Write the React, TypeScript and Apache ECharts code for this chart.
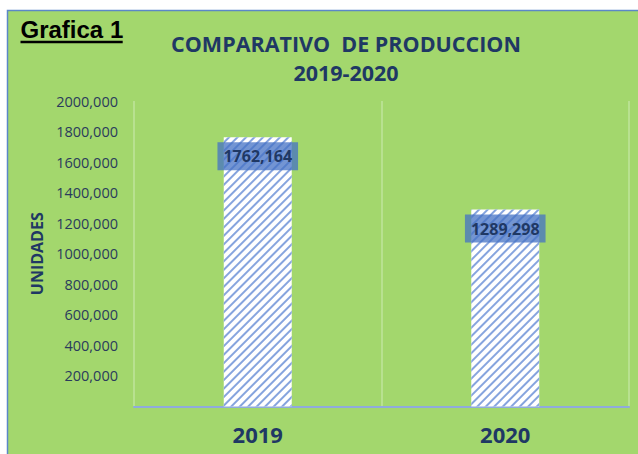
import React, { useEffect, useRef } from "react";
import * as echarts from "echarts";

const categories = ["2019", "2020"];
const production = [1762164, 1289298];
const yMin = 0;
const yMax = 2000000;
const yInterval = 200000;
const chartTitle = "COMPARATIVO  DE PRODUCCION\n2019-2020";
const chartTag = "Grafica 1";
const yName = "UNIDADES";

const fmt = (v: number) =>
  v >= 1000 ? Math.floor(v / 1000) + "," + String(v % 1000).padStart(3, "0") : String(v);

export default function App() {
  const ref = useRef<HTMLDivElement>(null);
  useEffect(() => {
    if (!ref.current) return;
    const chart = echarts.init(ref.current, null, { renderer: "svg" });
    const navy = "#1f3864";
    chart.setOption({
      animation: false,
      backgroundColor: "#ffffff",
      graphic: [
        {
          type: "rect",
          z: -10,
          shape: { x: 7.5, y: 10.5, width: 700, height: 500 },
          style: { fill: "#a3d76d", stroke: "#5b87c8", lineWidth: 1.5 },
        },
        {
          type: "text",
          z: 10,
          style: {
            text: chartTag,
            x: 20.5,
            y: 29.7,
            textVerticalAlign: "middle",
            fill: "#000000",
            font: 'bold 24px "Liberation Sans", Arial, sans-serif',
          },
        },
        {
          type: "line",
          z: 10,
          shape: { x1: 20.5, y1: 42, x2: 122.7, y2: 42 },
          style: { stroke: "#000000", lineWidth: 2.5 },
        },
      ],
      title: {
        text: chartTitle,
        left: 346,
        top: 28.5,
        padding: 0,
        textAlign: "center",
        textStyle: {
          color: navy,
          fontFamily: "Open Sans",
          fontWeight: "bold",
          fontSize: 21.5,
          lineHeight: 29,
        },
      },
      grid: { left: 134, right: 9, top: 101, bottom: 47.5, containLabel: false },
      xAxis: {
        type: "category",
        data: categories,
        axisLine: { show: true, lineStyle: { color: "#8faadc", width: 2 } },
        axisTick: { show: false },
        splitLine: { show: true, lineStyle: { color: "#bfe49c", width: 1.5 } },
        axisLabel: {
          color: navy,
          fontFamily: "Open Sans",
          fontWeight: "bold",
          fontSize: 22,
          margin: 16,
        },
      },
      yAxis: {
        type: "value",
        min: yMin,
        max: yMax,
        interval: yInterval,
        name: yName,
        nameLocation: "middle",
        nameRotate: 90,
        nameGap: 85,
        nameTextStyle: {
          color: navy,
          fontFamily: "Open Sans",
          fontWeight: "bold",
          fontSize: 16,
        },
        axisLine: { show: false },
        axisTick: { show: false },
        splitLine: { show: false },
        axisLabel: {
          color: "#2a3b5c",
          fontFamily: "Open Sans",
          fontSize: 14.5,
          margin: 16,
          showMinLabel: false,
          formatter: (v: number) => (v === 0 ? "" : fmt(v)),
        },
      },
      series: [
        {
          type: "bar",
          data: production,
          barWidth: 68,
          itemStyle: {
            color: "#ffffff",
            decal: {
              symbol: "rect",
              symbolSize: 1,
              color: "#86a4de",
              dashArrayX: [1, 0],
              dashArrayY: [1.6, 3.4],
              rotation: -Math.PI / 4,
            },
          },
          label: {
            show: true,
            position: "insideTop",
            distance: 5,
            formatter: (p: any) => fmt(p.value),
            backgroundColor: "rgba(68,114,196,0.75)",
            padding: [5, 6],
            color: navy,
            fontFamily: "Open Sans",
            fontWeight: "bold",
            fontSize: 16,
            lineHeight: 18,
          },
        },
      ],
    });
    return () => chart.dispose();
  }, []);
  return (
    <div
      ref={ref}
      style={{ position: "absolute", left: 0, top: 0, width: 638, height: 454 }}
    />
  );
}
